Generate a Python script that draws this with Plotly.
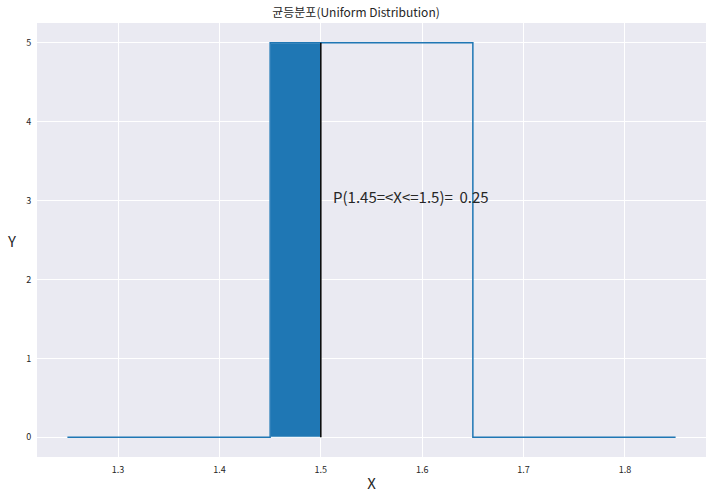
import plotly.graph_objects as go

x_line = [1.25, 1.45, 1.45, 1.65, 1.65, 1.85]
y_line = [0, 0, 5, 5, 0, 0]
fill_x = [1.45, 1.45, 1.5, 1.5, 1.45]
fill_y = [0, 5, 5, 0, 0]
edge_x = [1.5, 1.5]
edge_y = [0, 5]
x_ticks = [1.3, 1.4, 1.5, 1.6, 1.7, 1.8]
y_ticks = [0, 1, 2, 3, 4, 5]
prob_text = "P(1.45=<X<=1.5)=  0.25"
blue = "#1f77b4"
font = "Noto Sans CJK KR, Noto Sans, sans-serif"

fig = go.Figure()
fig.add_trace(go.Scatter(x=fill_x, y=fill_y, mode="lines", fill="toself",
                         fillcolor=blue, line=dict(color="white", width=1),
                         hoverinfo="skip"))
fig.add_trace(go.Scatter(x=x_line, y=y_line, mode="lines",
                         line=dict(color=blue, width=1.5)))
fig.add_trace(go.Scatter(x=edge_x, y=edge_y, mode="lines",
                         line=dict(color="black", width=1.5)))

fig.add_annotation(x=1.51, y=3, text=prob_text, showarrow=False,
                   xanchor="left", yanchor="middle", yshift=4,
                   font=dict(size=15, color="#262626", family=font))
fig.add_annotation(xref="paper", yref="paper", x=-0.029, y=0.5,
                   text="Y", showarrow=False, xanchor="right", yanchor="middle",
                   font=dict(size=15, color="#262626", family=font))

fig.update_layout(
    width=712, height=500,
    margin=dict(l=37, r=6, t=23, b=43, autoexpand=False),
    paper_bgcolor="white", plot_bgcolor="#EAEAF2",
    showlegend=False,
    title=dict(text="균등분포(Uniform Distribution)", x=0.5, xanchor="center",
               y=0.982, yanchor="top",
               font=dict(size=12, color="#262626", family=font)),
    font=dict(family=font, color="#262626"),
)
fig.update_xaxes(range=[1.22, 1.88], tickvals=x_ticks,
                 ticktext=[str(v) for v in x_ticks], automargin=False,
                 showgrid=True, gridcolor="white", gridwidth=1, zeroline=False,
                 showline=False, ticks="outside", ticklen=4, tickcolor="white",
                 tickfont=dict(size=9),
                 title=dict(text="X", font=dict(size=15), standoff=3))
fig.update_yaxes(range=[-0.25, 5.25], tickvals=y_ticks, automargin=False,
                 showgrid=True, gridcolor="white", gridwidth=1, zeroline=False,
                 showline=False, ticks="outside", ticklen=3, tickcolor="white",
                 tickfont=dict(size=9))

fig.write_html("out.html", config={"displayModeBar": False},
               post_script="document.body.style.margin='0px';")
